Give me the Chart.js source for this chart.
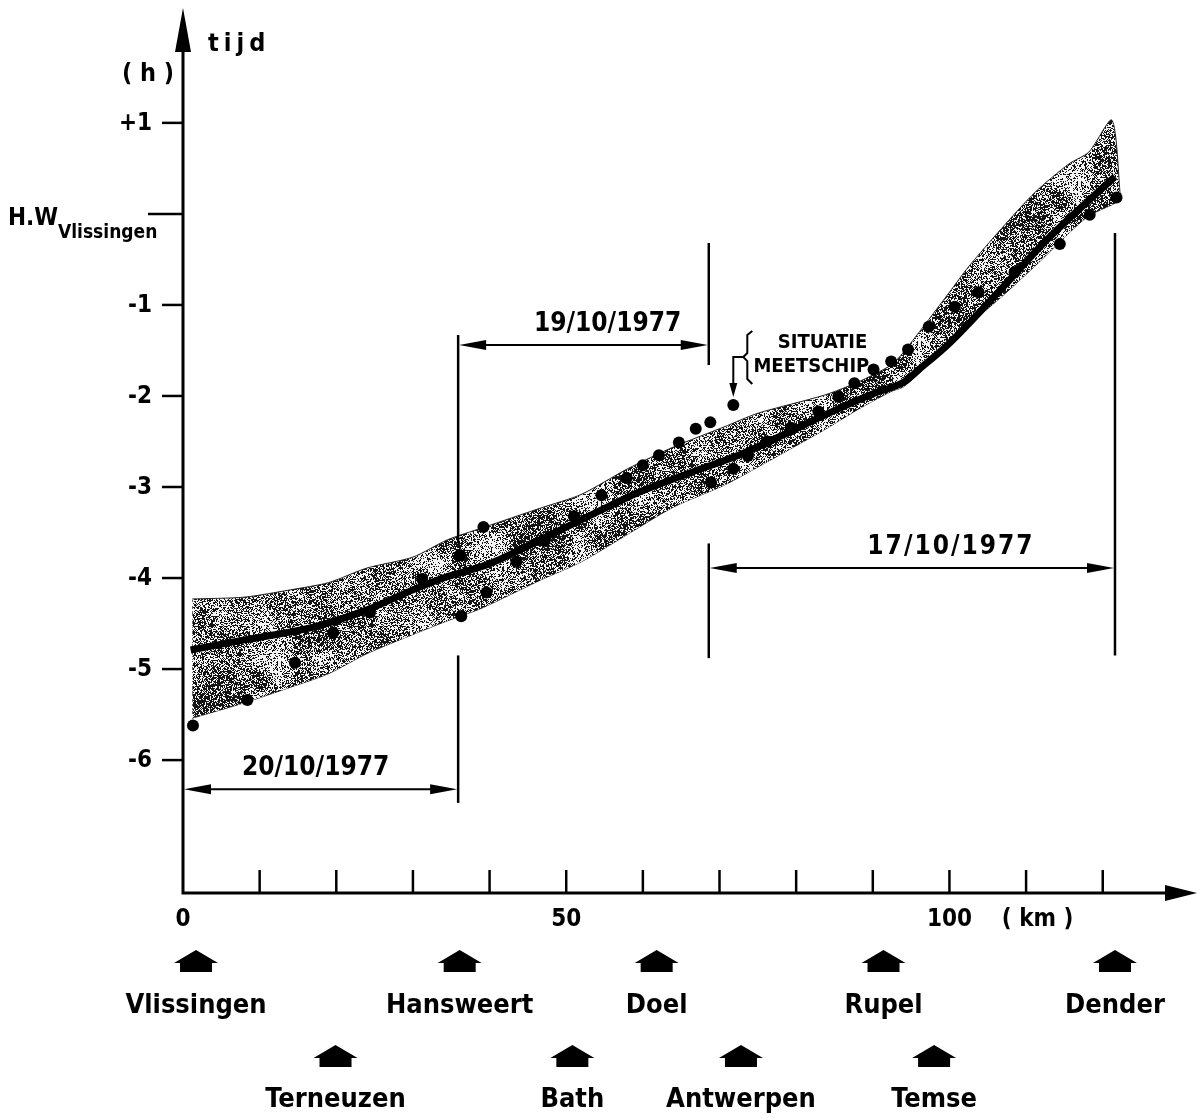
<!DOCTYPE html>
<html>
<head>
<meta charset="utf-8">
<title>Tijd van H.W. langs de Schelde</title>
<script src="https://cdn.jsdelivr.net/npm/chart.js@4.4.1/dist/chart.umd.min.js"></script>
<style>
  html, body { margin: 0; padding: 0; background: #fff; }
  #wrap { width: 1203px; height: 1118px; }
</style>
</head>
<body>
<div id="wrap"><canvas id="c" width="1203" height="1118"></canvas></div>
<script>
// band (spreiding) - km and hours relative to H.W. Vlissingen
const kmBand = [1.2, 8, 14, 19, 24, 30, 34.5, 39, 46.7, 52, 58, 64, 70.6, 75, 83.7, 88, 92.4, 94, 97.3, 100, 102.5, 106.8, 111.2, 115.6, 118.2, 121.2, 122.3];
const bandUpper = [-4.23, -4.21, -4.13, -4.05, -3.89, -3.77, -3.58, -3.45, -3.23, -3.08, -2.80, -2.56, -2.34, -2.19, -1.99, -1.85, -1.66, -1.52, -1.16, -0.86, -0.58, -0.16, 0.24, 0.55, 0.68, 1.03, 0.20];
const bandLower = [-5.54, -5.37, -5.20, -5.05, -4.83, -4.62, -4.47, -4.33, -4.02, -3.82, -3.52, -3.22, -2.98, -2.78, -2.37, -2.15, -1.95, -1.90, -1.65, -1.40, -1.22, -0.91, -0.57, -0.21, -0.02, 0.10, 0.15];

// mean curve
const kmMean = [1.0, 8, 17, 24, 30, 33.6, 40.1, 47.1, 53.2, 59.7, 66.3, 72.8, 78, 83.7, 90.2, 94, 96, 100, 106.8, 113, 121.6];
const meanHW = [-4.79, -4.68, -4.54, -4.35, -4.13, -4.01, -3.84, -3.56, -3.31, -3.05, -2.84, -2.64, -2.44, -2.21, -1.97, -1.85, -1.71, -1.42, -0.82, -0.26, 0.41];

// measured points
const kmDots = [1.3, 8.4, 14.6, 19.6, 24.4, 31.2, 36.1, 36.3, 39.2, 39.6, 43.5, 47.2, 51.0, 54.6, 57.9, 60.0, 62.1, 64.7, 66.9, 68.8, 71.8, 68.9, 71.8, 73.7, 76.2, 79.3, 82.9, 85.5, 87.6, 90.1, 92.4, 94.6, 97.3, 100.7, 103.8, 108.5, 114.4, 118.3, 121.8];
const dotHW = [-5.62, -5.34, -4.93, -4.60, -4.38, -4.01, -3.75, -4.42, -3.44, -4.16, -3.82, -3.59, -3.32, -3.09, -2.90, -2.76, -2.65, -2.51, -2.36, -2.29, -2.10, -2.95, -2.80, -2.66, -2.50, -2.35, -2.17, -2.01, -1.86, -1.71, -1.62, -1.49, -1.24, -1.02, -0.86, -0.64, -0.33, -0.01, 0.18];

// axes
const xTicks = [10, 20, 30, 40, 50, 60, 70, 80, 90, 100, 110, 120];
const xLabelValues = [0, 50, 100];
const yTicks = [1, -1, -2, -3, -4, -5, -6];
const yTickLabels = ['+1', '-1', '-2', '-3', '-4', '-5', '-6'];

// stations
const stationNames1 = ['Vlissingen', 'Hansweert', 'Doel', 'Rupel', 'Dender'];
const stationKm1 = [1.7, 36.1, 61.8, 91.4, 121.6];
const stationNames2 = ['Terneuzen', 'Bath', 'Antwerpen', 'Temse'];
const stationKm2 = [19.9, 50.8, 72.8, 98.0];

// measuring periods
const periodLabels = ['20/10/1977', '19/10/1977', '17/10/1977'];
const periodFrom = [0, 35.9, 68.6];
const periodTo = [35.9, 68.6, 121.6];
const periodLevel = [-6.32, -1.44, -3.89];
const periodTextKm = [17.3, 55.4, 100.2];
const markerKm = [35.9, 35.9, 68.6, 68.6, 121.6];
const markerTop = [-1.33, -4.85, -0.32, -3.62, -0.21];
const markerBottom = [-3.62, -6.47, -1.66, -4.88, -4.85];

const FONT = '"DejaVu Sans Condensed", "Liberation Sans Narrow", "DejaVu Sans", sans-serif';

// speckled grey texture for the band
function makeStipple(ctxMain) {
  const S = 160, cells = 8, cs = S / cells;
  const c = document.createElement('canvas');
  c.width = c.height = S;
  const g = c.getContext('2d');
  const img = g.createImageData(S, S);
  let seed = 20101977;
  const rnd = () => (seed = (seed * 1103515245 + 12345) & 0x7fffffff) / 0x7fffffff;
  const grid = [];
  for (let i = 0; i < cells * cells; i++) grid.push(rnd());
  const at = (i, j) => grid[((j + cells) % cells) * cells + ((i + cells) % cells)];
  for (let y = 0; y < S; y++) {
    for (let x = 0; x < S; x++) {
      const gx = x / cs, gy = y / cs;
      const i = Math.floor(gx), j = Math.floor(gy);
      const fx = gx - i, fy = gy - j;
      const sx = fx * fx * (3 - 2 * fx), sy = fy * fy * (3 - 2 * fy);
      const a = at(i, j) * (1 - sx) + at(i + 1, j) * sx;
      const b = at(i, j + 1) * (1 - sx) + at(i + 1, j + 1) * sx;
      const blob = a * (1 - sy) + b * sy;
      const p = 0.2 + 0.58 * blob;
      const v = rnd() < p ? 20 : 245;
      const k = (y * S + x) * 4;
      img.data[k] = img.data[k + 1] = img.data[k + 2] = v;
      img.data[k + 3] = 255;
    }
  }
  g.putImageData(img, 0, 0);
  return ctxMain.createPattern(c, 'repeat');
}

function tri(ctx, pts) {
  ctx.beginPath();
  ctx.moveTo(pts[0][0], pts[0][1]);
  for (let i = 1; i < pts.length; i++) ctx.lineTo(pts[i][0], pts[i][1]);
  ctx.closePath();
  ctx.fill();
}

function houseArrow(ctx, cx, ty) {
  tri(ctx, [[cx, ty], [cx + 22, ty + 13], [cx + 16, ty + 13], [cx + 16, ty + 22],
            [cx - 16, ty + 22], [cx - 16, ty + 13], [cx - 22, ty + 13]]);
}

const sketch = {
  id: 'sketch',
  afterDraw(chart) {
    const ctx = chart.ctx;
    const xs = chart.scales.x, ys = chart.scales.y;
    const X = v => xs.getPixelForValue(v), Y = v => ys.getPixelForValue(v);
    const area = chart.chartArea;
    const x0 = X(0), yb = area.bottom;

    ctx.save();
    ctx.fillStyle = '#000';
    ctx.strokeStyle = '#000';
    ctx.lineCap = 'butt';

    // axes with arrows
    ctx.lineWidth = 3;
    ctx.beginPath();
    ctx.moveTo(x0, area.top + 30);
    ctx.lineTo(x0, yb);
    ctx.lineTo(area.right - 25, yb);
    ctx.stroke();
    tri(ctx, [[x0, area.top - 2], [x0 - 8, area.top + 42], [x0 + 8, area.top + 42]]);
    tri(ctx, [[area.right, yb], [area.right - 32, yb - 8], [area.right - 32, yb + 8]]);

    // x ticks (pointing up)
    ctx.lineWidth = 2.5;
    xTicks.forEach(v => {
      ctx.beginPath();
      ctx.moveTo(X(v), yb);
      ctx.lineTo(X(v), yb - 23);
      ctx.stroke();
    });
    ctx.font = 'bold 24px ' + FONT;
    ctx.textAlign = 'center';
    ctx.textBaseline = 'middle';
    xLabelValues.forEach(v => ctx.fillText(String(v), X(v), yb + 27));
    ctx.fillText('( km )', X(111.5), yb + 27);

    // y ticks
    yTicks.forEach((v, i) => {
      ctx.beginPath();
      ctx.moveTo(x0 - 21, Y(v));
      ctx.lineTo(x0, Y(v));
      ctx.stroke();
      ctx.textAlign = 'right';
      ctx.fillText(yTickLabels[i], x0 - 31, Y(v) + 1);
    });
    ctx.beginPath();
    ctx.moveTo(x0 - 35, Y(0));
    ctx.lineTo(x0, Y(0));
    ctx.stroke();
    ctx.textAlign = 'left';
    ctx.font = 'bold 24px ' + FONT;
    ctx.fillText('H.W', 8, Y(0) + 5);
    ctx.font = 'bold 19px ' + FONT;
    ctx.fillText('Vlissingen', 58, Y(0) + 19);

    // axis titles
    ctx.font = 'bold 25px ' + FONT;
    ctx.letterSpacing = '5px';
    ctx.fillText('tijd', x0 + 25, 44);
    ctx.textAlign = 'center';
    ctx.letterSpacing = '0px';
    ctx.fillText('( h )', x0 - 35, 74);

    // stations
    ctx.font = 'bold 27px ' + FONT;
    stationKm1.forEach((km, i) => {
      houseArrow(ctx, X(km), yb + 57);
      ctx.fillText(stationNames1[i], X(km), yb + 113);
    });
    stationKm2.forEach((km, i) => {
      houseArrow(ctx, X(km), yb + 152);
      ctx.fillText(stationNames2[i], X(km), yb + 207);
    });

    // measuring periods
    ctx.lineWidth = 2.5;
    markerKm.forEach((km, i) => {
      ctx.beginPath();
      ctx.moveTo(X(km), Y(markerTop[i]));
      ctx.lineTo(X(km), Y(markerBottom[i]));
      ctx.stroke();
    });
    ctx.font = 'bold 26px ' + FONT;
    periodLabels.forEach((lab, i) => {
      const a = X(periodFrom[i]), b = X(periodTo[i]), y = Y(periodLevel[i]);
      ctx.lineWidth = 2;
      ctx.beginPath();
      ctx.moveTo(a + 10, y);
      ctx.lineTo(b - 10, y);
      ctx.stroke();
      tri(ctx, [[a + 1, y], [a + 28, y - 5], [a + 28, y + 5]]);
      tri(ctx, [[b - 1, y], [b - 28, y - 5], [b - 28, y + 5]]);
      ctx.letterSpacing = i === 2 ? '2px' : '0px';
      ctx.fillText(lab, X(periodTextKm[i]), y - 21);
    });
    ctx.letterSpacing = '0px';

    // situatie meetschip
    const dx = X(71.8), dy = Y(-2.10);
    ctx.lineWidth = 2;
    ctx.beginPath();
    ctx.moveTo(dx + 10, dy - 48);
    ctx.lineTo(dx, dy - 48);
    ctx.lineTo(dx, dy - 20);
    ctx.stroke();
    tri(ctx, [[dx, dy - 8], [dx - 4, dy - 22], [dx + 4, dy - 22]]);
    ctx.beginPath();
    ctx.moveTo(dx + 19, dy - 74);
    ctx.lineTo(dx + 14, dy - 70);
    ctx.lineTo(dx + 14, dy - 52);
    ctx.lineTo(dx + 10, dy - 48);
    ctx.lineTo(dx + 14, dy - 44);
    ctx.lineTo(dx + 14, dy - 26);
    ctx.lineTo(dx + 19, dy - 21);
    ctx.stroke();
    ctx.font = 'bold 20px ' + FONT;
    ctx.textAlign = 'right';
    ctx.fillText('SITUATIE', dx + 134, dy - 62);
    ctx.fillText('MEETSCHIP', dx + 136, dy - 38);

    ctx.restore();
  }
};

const cctx = document.getElementById('c').getContext('2d');
const stipple = makeStipple(cctx);
const pts = (xsArr, ysArr) => xsArr.map((v, i) => ({ x: v, y: ysArr[i] }));

new Chart(cctx, {
  type: 'line',
  data: {
    datasets: [
      {
        label: 'ondergrens',
        data: pts(kmBand, bandLower),
        borderColor: '#222',
        borderWidth: 1,
        pointRadius: 0,
        tension: 0.25,
        fill: false,
        order: 3
      },
      {
        label: 'bovengrens',
        data: pts(kmBand, bandUpper),
        borderColor: '#222',
        borderWidth: 1,
        pointRadius: 0,
        tension: 0.25,
        backgroundColor: stipple,
        fill: '-1',
        order: 2
      },
      {
        label: 'gemiddelde',
        data: pts(kmMean, meanHW),
        borderColor: '#000',
        borderWidth: 7,
        pointRadius: 0,
        tension: 0.4,
        cubicInterpolationMode: 'monotone',
        fill: false,
        order: 1
      },
      {
        label: 'metingen',
        data: pts(kmDots, dotHW),
        showLine: false,
        pointRadius: 6,
        pointBackgroundColor: '#000',
        pointBorderColor: '#000',
        pointBorderWidth: 0,
        order: 0
      }
    ]
  },
  options: {
    responsive: false,
    animation: false,
    events: [],
    layout: { padding: { left: 183, right: 6, top: 10, bottom: 225 } },
    scales: {
      x: { type: 'linear', min: 0, max: 132.3, display: false },
      y: { type: 'linear', min: -7.46, max: 2.24, display: false }
    },
    plugins: {
      legend: { display: false },
      tooltip: { enabled: false }
    }
  },
  plugins: [sketch]
});
</script>
</body>
</html>
